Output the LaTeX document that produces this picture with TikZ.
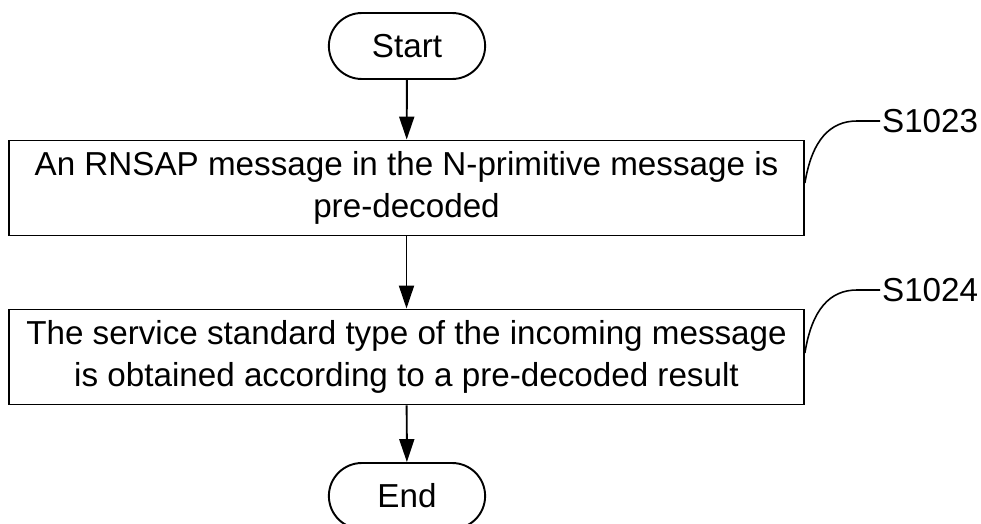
\documentclass[tikz,border=0pt]{standalone}
\usepackage{fontspec}
\setmainfont{Liberation Sans}
\usetikzlibrary{positioning, shapes.misc, arrows.meta}

\tikzset{
  term/.style={rounded rectangle, draw, line width=1.1pt, minimum width=3.36cm, minimum height=1.32cm},
  stepbox/.style={rectangle, draw, line width=1.1pt, minimum width=15.9cm, minimum height=1.9cm, align=center},
  flow/.style={line width=1.1pt, -{Triangle[length=0.46cm, width=0.3cm]}},
  lead/.style={line width=0.9pt},
  tag/.style={anchor=west, inner sep=1pt}
}

\begin{document}
\begin{tikzpicture}[x=0.02cm, y=-0.02cm, font=\fontsize{18.9pt}{23.9pt}\selectfont]
\useasboundingbox (0,0) rectangle (981,524);
\node[term] (start) at (407,46) {Start};
\node[stepbox] (s1) at (406.5,188) {An RNSAP message in the N-primitive message is\\pre-decoded};
\node[stepbox] (s2) at (406.5,357) {The service standard type of the incoming message\\is obtained according to a pre-decoded result};
\node[term] (end) at (407,496) {End};
\draw[flow] (start) -- (s1);
\draw[flow] (s1) -- (s2);
\draw[flow] (s2) -- (end);
% step labels
\node[tag] (t1) at (880,121) {S1023};
\node[tag] (t2) at (880,290) {S1024};
\draw[lead] ([yshift=0.1cm]s1.east) .. controls (812,140) and (830,121) .. (857,121) -- (t1.west);
\draw[lead] ([yshift=0.08cm]s2.east) .. controls (812,309) and (830,290) .. (857,290) -- (t2.west);
\end{tikzpicture}
\end{document}
